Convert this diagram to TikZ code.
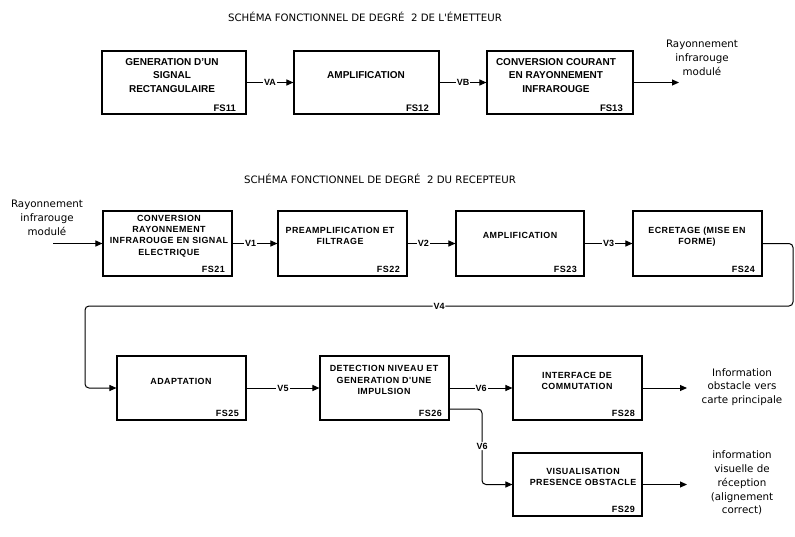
\documentclass[tikz,border=0pt]{standalone}
\usepackage{fontspec}
\setmainfont{Liberation Sans}
\newfontfamily\dvfont{DejaVu Sans}
\newfontfamily\rowtwo[LetterSpace=5]{Liberation Sans}
\usetikzlibrary{arrows.meta}
\begin{document}
\begin{tikzpicture}[x=1pt,y=-1pt,
 blk/.style={draw, line width=1.1pt, inner sep=0pt},
 conn/.style={line width=1pt, -{Triangle[length=7pt,width=6pt]}},
 tone/.style={font=\bfseries\fontsize{10}{13.5}\selectfont, align=center, inner sep=0pt},
 ttwo/.style={font=\rowtwo\bfseries\fontsize{8.9}{11.3}\selectfont, align=center, inner sep=0pt},
 numone/.style={font=\bfseries\fontsize{9.5}{10}\selectfont, anchor=base east, inner sep=0pt},
 numtwo/.style={font=\rowtwo\bfseries\fontsize{9}{10}\selectfont, anchor=base east, inner sep=0pt},
 sig/.style={font=\bfseries\fontsize{9}{10}\selectfont, fill=white, inner sep=1pt},
 side/.style={font=\dvfont\fontsize{10.3}{13.8}\selectfont, align=center, inner sep=0pt},
 ttl/.style={font=\dvfont\fontsize{10.2}{11}\selectfont, inner sep=0pt}]
\fill[white] (0,0) rectangle (795,536);
\useasboundingbox (0,0) rectangle (795,536);

% titles
\node[ttl] (title1) at (365,17) {SCHÉMA FONCTIONNEL DE DEGRÉ\ \ 2 DE L'ÉMETTEUR};
\node[ttl] (title2) at (380,179) {SCHÉMA FONCTIONNEL DE DEGRÉ\ \ 2 DU RECEPTEUR};

% emitter boxes
\node[blk, minimum width=144pt, minimum height=63pt] (fs11) at (174,82.5) {};
\node[blk, minimum width=145pt, minimum height=63pt] (fs12) at (366.5,82.5) {};
\node[blk, minimum width=146pt, minimum height=63pt] (fs13) at (560,82.5) {};
\node[tone] (fs11t) at (172,75.5) {GENERATION D'UN\\SIGNAL\\RECTANGULAIRE};
\node[tone] (fs12t) at (366,75) {AMPLIFICATION};
\node[tone] (fs13t) at (556,75.5) {CONVERSION COURANT\\EN RAYONNEMENT\\INFRAROUGE};
\node[numone] (fs11n) at (236,111) {FS11};
\node[numone] (fs12n) at (429,111) {FS12};
\node[numone] (fs13n) at (623,111) {FS13};

% receiver boxes
\node[blk, minimum width=129pt, minimum height=65pt] (fs21) at (167.5,243.5) {};
\node[blk, minimum width=129pt, minimum height=65pt] (fs22) at (342.5,243.5) {};
\node[blk, minimum width=128pt, minimum height=65pt] (fs23) at (520,243.5) {};
\node[blk, minimum width=129pt, minimum height=65pt] (fs24) at (697.5,243.5) {};
\node[blk, minimum width=129pt, minimum height=64pt] (fs25) at (181.5,388) {};
\node[blk, minimum width=129pt, minimum height=64pt] (fs26) at (384.5,388) {};
\node[blk, minimum width=129pt, minimum height=64pt] (fs28) at (577.5,388) {};
\node[blk, minimum width=129pt, minimum height=63pt] (fs29) at (577.5,484.5) {};

\node[ttwo] (fs21t) at (169,236) {CONVERSION\\RAYONNEMENT\\INFRAROUGE EN SIGNAL\\ELECTRIQUE};
\node[ttwo] (fs22t) at (340,236) {PREAMPLIFICATION ET\\FILTRAGE};
\node[ttwo] (fs23t) at (520,235) {AMPLIFICATION};
\node[ttwo] (fs24t) at (697,237) {ECRETAGE (MISE EN\\FORME)};
\node[ttwo] (fs25t) at (181,381) {ADAPTATION};
\node[ttwo] (fs26t) at (384,380) {DETECTION NIVEAU ET\\GENERATION D'UNE\\IMPULSION};
\node[ttwo] (fs28t) at (577,381) {INTERFACE DE\\COMMUTATION};
\node[ttwo] (fs29t) at (583,477) {VISUALISATION\\PRESENCE OBSTACLE};

\node[numtwo] (fs21n) at (225,272) {FS21};
\node[numtwo] (fs22n) at (400,272) {FS22};
\node[numtwo] (fs23n) at (577,272) {FS23};
\node[numtwo] (fs24n) at (755,272) {FS24};
\node[numtwo] (fs25n) at (239,416.5) {FS25};
\node[numtwo] (fs26n) at (442,416.5) {FS26};
\node[numtwo] (fs28n) at (635,416.5) {FS28};
\node[numtwo] (fs29n) at (635,512.5) {FS29};

% side texts
\node[side] (s1) at (702,58) {Rayonnement\\infrarouge\\modulé};
\node[side] (s2) at (47,218) {Rayonnement\\infrarouge\\modulé};
\node[side] (s3) at (742,387) {Information\\obstacle vers\\carte principale};
\node[side] (s4) at (742,483) {information\\visuelle de\\réception\\(alignement\\correct)};

% coordinates
\coordinate (out1) at (679,82.5);
\coordinate (in1) at (53,243.5);
\coordinate (c1) at (793,243.5);
\coordinate (c2) at (793,306);
\coordinate (c3) at (85,306);
\coordinate (c4) at (85,388);
\coordinate (c5) at (482,409);
\coordinate (c6) at (482,484.5);
\coordinate (out2) at (687,388);
\coordinate (out3) at (687,484.5);

% connectors
\draw[conn] (fs11) -- node[sig]{VA} (fs12);
\draw[conn] (fs12) -- node[sig]{VB} (fs13);
\draw[conn] (fs13) -- (out1);
\draw[conn] (in1) -- (fs21);
\draw[conn] (fs21) -- node[sig,pos=0.4]{V1} (fs22);
\draw[conn] (fs22) -- node[sig,pos=0.33]{V2} (fs23);
\draw[conn] (fs23) -- node[sig]{V3} (fs24);
\draw[conn, rounded corners=4pt] (fs24.east) -- (c1) -- (c2) -- node[sig]{V4} (c3) -- (c4) -- (fs25.west);
\draw[conn] (fs25) -- node[sig]{V5} (fs26);
\draw[conn] (fs26) -- node[sig]{V6} (fs28);
\draw[conn, rounded corners=4pt] ([yshift=-21pt]fs26.east) -- (c5) -- node[sig,pos=0.49]{V6} (c6) -- (fs29.west);
\draw[conn] (fs28) -- (out2);
\draw[conn] (fs29) -- (out3);
\end{tikzpicture}
\end{document}
